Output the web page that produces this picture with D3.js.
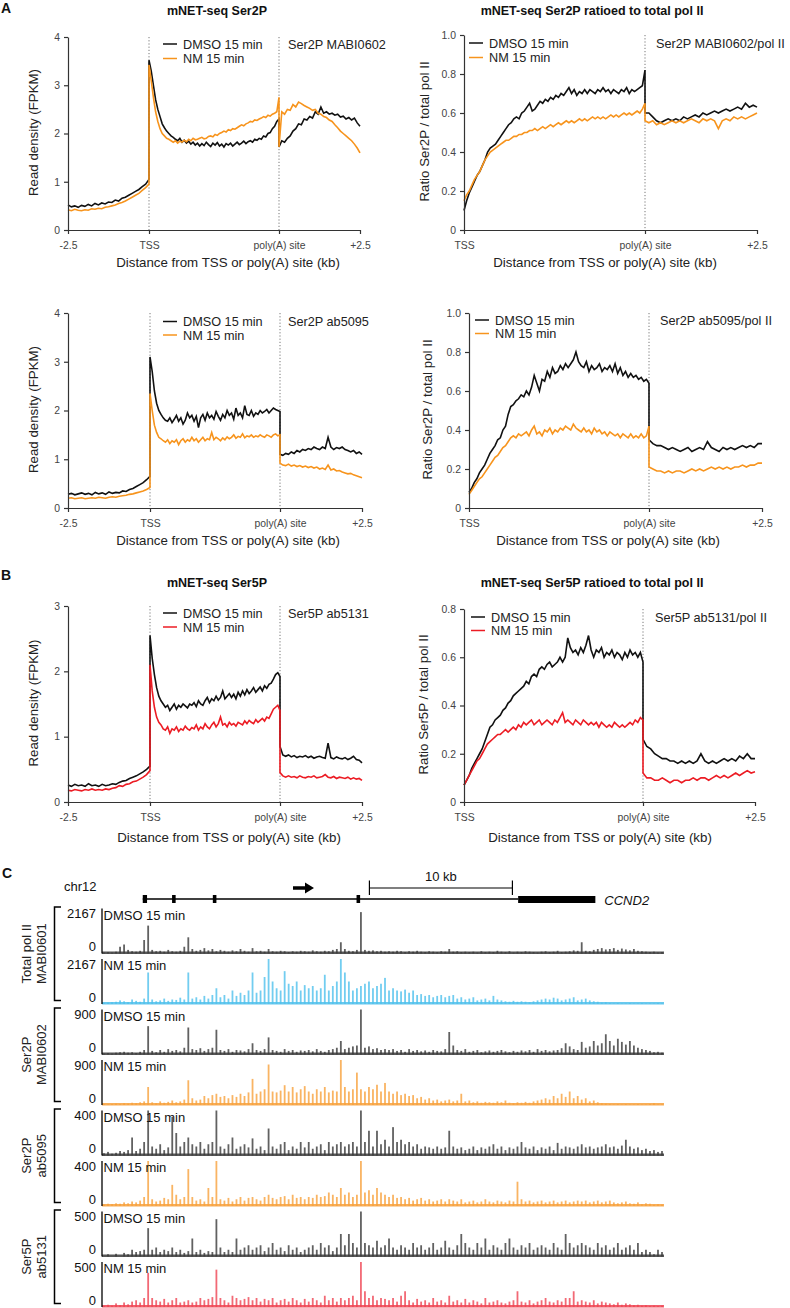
<!DOCTYPE html>
<html><head><meta charset="utf-8">
<script src="https://cdn.jsdelivr.net/npm/d3@7"></script>
<style>
body{margin:0;background:#fff;}
svg{display:block;}
</style></head><body>
<script>
// ---------------- DATA ----------------
// Metagene profiles. Left plots: 25 upstream pts (-2.5 kb..TSS), 60 gene-body pts (TSS..poly(A)), 30 downstream pts (poly(A)..+2.5 kb)
const UP_N = 25, BODY_N = 60, DOWN_N = 30;
// Ratio plots: 70 gene-body pts, 30 downstream pts
const RBODY_N = 70, RDOWN_N = 30;

const leftTickLabels = ["-2.5", "TSS", "poly(A) site", "+2.5"];
const rightTickLabels = ["TSS", "poly(A) site", "+2.5"];
const legendLabels = ["DMSO 15 min", "NM 15 min"];

// Ser2P MABI0602 read density
const s2mabiDmso = [0.52,0.48,0.50,0.47,0.51,0.49,0.53,0.50,0.55,0.52,0.56,0.54,0.58,0.57,0.62,0.60,0.66,0.68,0.72,0.76,0.80,0.84,0.90,0.95,1.05,
 3.52,3.3,3.0,2.7,2.5,2.35,2.2,2.12,2.05,2.0, 1.95,1.92,1.88,1.85,1.9,1.82,1.86,1.8,1.84,1.78, 1.82,1.76,1.8,1.74,1.79,1.75,1.82,1.77,1.73,1.8,
 1.76,1.81,1.74,1.78,1.72,1.79,1.76,1.8,1.74,1.78, 1.82,1.77,1.8,1.84,1.79,1.83,1.85,1.82,1.88,1.86, 1.9,1.88,1.95,1.93,2.0,2.02,2.1,2.15,2.25,2.3,
 1.72,1.85,1.82,1.9,1.95,2.05,2.1,2.2,2.18,2.3, 2.28,2.35,2.32,2.45,2.4,2.55,2.42,2.45,2.4,2.42, 2.38,2.4,2.34,2.36,2.3,2.33,2.28,2.32,2.22,2.15];
const s2mabiNm = [0.42,0.40,0.43,0.41,0.40,0.42,0.41,0.44,0.43,0.45,0.44,0.47,0.48,0.50,0.52,0.55,0.57,0.60,0.64,0.68,0.72,0.76,0.82,0.88,0.95,
 3.42,3.1,2.75,2.45,2.25,2.1,2.0,1.95,1.9,1.88, 1.85,1.82,1.85,1.8,1.84,1.82,1.86,1.83,1.88,1.85, 1.9,1.87,1.88,1.9,1.92,1.89,1.9,1.94,1.95,1.93,
 1.98,1.96,2.0,2.02,2.05,2.03,2.08,2.06,2.1,2.09, 2.12,2.15,2.18,2.16,2.2,2.22,2.25,2.24,2.28,2.27, 2.3,2.32,2.35,2.33,2.38,2.36,2.4,2.42,2.45,2.75,
 1.72,2.45,2.4,2.5,2.48,2.6,2.55,2.65,2.62,2.58, 2.55,2.52,2.48,2.5,2.42,2.4,2.35,2.33,2.28,2.25, 2.18,2.12,2.05,2.0,1.95,1.9,1.85,1.78,1.7,1.6];

// Ser2P MABI0602 / pol II ratio
const r2mabiDmso = [0.1,0.15,0.19,0.22,0.25,0.28,0.3,0.33,0.36,0.4, 0.42,0.43,0.44,0.46,0.48,0.5,0.52,0.54,0.55,0.57,
 0.58,0.57,0.6,0.61,0.63,0.65,0.61,0.62,0.64,0.66, 0.65,0.67,0.66,0.68,0.67,0.69,0.68,0.7,0.69,0.71,
 0.73,0.7,0.72,0.69,0.71,0.7,0.72,0.7,0.72,0.71, 0.7,0.72,0.71,0.73,0.71,0.72,0.7,0.72,0.71,0.7,
 0.72,0.71,0.73,0.7,0.72,0.71,0.72,0.73,0.74,0.82,
 0.6,0.6,0.58,0.56,0.55,0.56,0.57,0.56,0.57,0.56, 0.58,0.57,0.58,0.59,0.58,0.6,0.59,0.6,0.61,0.6, 0.61,0.62,0.61,0.62,0.63,0.62,0.65,0.63,0.64,0.63];
const r2mabiNm = [0.15,0.18,0.2,0.23,0.26,0.28,0.3,0.33,0.36,0.38, 0.4,0.41,0.42,0.43,0.44,0.45,0.46,0.46,0.47,0.48,
 0.48,0.49,0.49,0.5,0.5,0.51,0.51,0.52,0.51,0.52, 0.53,0.52,0.53,0.54,0.53,0.54,0.55,0.54,0.55,0.56,
 0.55,0.56,0.55,0.56,0.57,0.56,0.57,0.56,0.57,0.58, 0.57,0.58,0.57,0.58,0.57,0.58,0.59,0.58,0.59,0.58,
 0.59,0.6,0.59,0.6,0.59,0.6,0.61,0.6,0.62,0.65,
 0.56,0.55,0.56,0.54,0.55,0.54,0.55,0.56,0.55,0.56, 0.55,0.56,0.57,0.56,0.55,0.57,0.56,0.57,0.56,0.52, 0.56,0.57,0.56,0.58,0.57,0.58,0.57,0.58,0.59,0.6];

// Ser2P ab5095 read density
const s2abDmso = [0.28,0.30,0.27,0.29,0.31,0.28,0.30,0.27,0.32,0.29,0.31,0.28,0.33,0.30,0.32,0.31,0.35,0.34,0.38,0.40,0.44,0.48,0.52,0.58,0.65,
 3.1,2.8,2.4,2.15,2.0,1.92,1.85,1.8,1.78,1.85, 1.75,1.82,1.9,1.78,1.85,1.72,1.8,1.95,1.85,1.9, 1.78,1.88,1.65,1.85,1.92,1.8,1.95,1.85,1.9,1.82,
 1.98,1.88,1.8,1.92,1.85,2.0,1.9,1.95,1.82,2.05, 1.9,1.95,1.85,2.1,1.92,1.9,2.0,1.88,1.95,1.92, 2.0,1.95,1.98,2.02,1.95,2.0,2.05,2.02,2.0,1.98,
 1.1,1.08,1.12,1.1,1.15,1.12,1.18,1.15,1.2,1.18, 1.22,1.2,1.25,1.22,1.2,1.25,1.22,1.45,1.25,1.2, 1.24,1.22,1.25,1.2,1.18,1.15,1.18,1.12,1.15,1.1];
const s2abNm = [0.20,0.21,0.19,0.20,0.21,0.19,0.20,0.21,0.20,0.22,0.21,0.20,0.22,0.23,0.22,0.24,0.25,0.26,0.28,0.29,0.31,0.33,0.35,0.38,0.42,
 2.35,2.0,1.7,1.55,1.45,1.42,1.38,1.35,1.4,1.32, 1.38,1.35,1.4,1.3,1.38,1.42,1.35,1.4,1.37,1.45, 1.38,1.42,1.35,1.4,1.45,1.38,1.42,1.4,1.55,1.4,
 1.45,1.42,1.38,1.44,1.4,1.46,1.42,1.45,1.5,1.43, 1.47,1.45,1.52,1.44,1.48,1.46,1.5,1.45,1.48,1.46, 1.5,1.47,1.45,1.5,1.48,1.45,1.5,1.52,1.48,1.5,
 0.92,0.88,0.87,0.9,0.86,0.88,0.85,0.87,0.84,0.86, 0.83,0.85,0.82,0.84,0.8,0.82,0.79,0.88,0.78,0.8, 0.76,0.77,0.74,0.72,0.7,0.71,0.68,0.66,0.64,0.62];

// Ser2P ab5095 / pol II ratio
const r2abDmso = [0.08,0.1,0.13,0.15,0.18,0.2,0.22,0.25,0.28,0.3, 0.32,0.35,0.36,0.4,0.42,0.48,0.52,0.53,0.55,0.56,
 0.58,0.57,0.6,0.58,0.62,0.68,0.64,0.6,0.66,0.65, 0.7,0.67,0.72,0.69,0.7,0.73,0.71,0.74,0.72,0.74,
 0.76,0.8,0.75,0.73,0.72,0.75,0.7,0.73,0.71,0.72, 0.74,0.7,0.72,0.71,0.73,0.7,0.74,0.69,0.72,0.68,
 0.7,0.67,0.69,0.67,0.68,0.66,0.67,0.65,0.66,0.64,
 0.35,0.33,0.32,0.32,0.31,0.3,0.31,0.3,0.29,0.3, 0.31,0.29,0.3,0.31,0.3,0.34,0.31,0.3,0.29,0.31, 0.3,0.31,0.3,0.31,0.32,0.31,0.32,0.31,0.33,0.33];
const r2abNm = [0.07,0.09,0.11,0.13,0.15,0.16,0.18,0.2,0.22,0.24, 0.26,0.27,0.29,0.31,0.32,0.34,0.36,0.37,0.36,0.38,
 0.37,0.38,0.39,0.37,0.4,0.42,0.38,0.39,0.37,0.4, 0.39,0.41,0.38,0.4,0.39,0.41,0.4,0.42,0.41,0.4,
 0.43,0.41,0.4,0.39,0.41,0.39,0.4,0.38,0.41,0.39, 0.4,0.38,0.39,0.37,0.39,0.38,0.37,0.38,0.36,0.38,
 0.37,0.36,0.38,0.36,0.37,0.36,0.38,0.36,0.37,0.42,
 0.21,0.2,0.19,0.19,0.18,0.19,0.18,0.19,0.19,0.18, 0.19,0.2,0.19,0.2,0.19,0.2,0.21,0.2,0.21,0.2, 0.21,0.2,0.21,0.21,0.22,0.21,0.22,0.22,0.23,0.23];

// Ser5P ab5131 read density
const s5Dmso = [0.26,0.24,0.27,0.25,0.26,0.24,0.28,0.25,0.26,0.24,0.27,0.25,0.26,0.28,0.27,0.30,0.32,0.33,0.36,0.38,0.40,0.43,0.46,0.50,0.55,
 2.55,2.2,1.95,1.75,1.62,1.55,1.5,1.45,1.48,1.4, 1.45,1.5,1.42,1.48,1.45,1.5,1.47,1.44,1.5,1.48, 1.52,1.46,1.55,1.5,1.48,1.55,1.6,1.52,1.58,1.55,
 1.62,1.56,1.6,1.7,1.58,1.62,1.66,1.6,1.65,1.58, 1.68,1.62,1.7,1.64,1.72,1.66,1.7,1.75,1.68,1.72, 1.76,1.7,1.78,1.74,1.8,1.82,1.88,1.95,1.98,1.92,
 0.85,0.72,0.7,0.72,0.69,0.71,0.68,0.7,0.69,0.71, 0.68,0.7,0.67,0.69,0.7,0.68,0.67,0.9,0.68,0.66, 0.69,0.67,0.66,0.68,0.65,0.67,0.7,0.65,0.64,0.6];
const s5Nm = [0.18,0.17,0.19,0.18,0.17,0.19,0.18,0.2,0.18,0.19,0.18,0.2,0.19,0.21,0.22,0.25,0.24,0.27,0.28,0.31,0.32,0.35,0.38,0.42,0.48,
 2.1,1.7,1.45,1.3,1.22,1.18,1.12,1.1,1.15,1.05, 1.12,1.1,1.15,1.08,1.12,1.1,1.16,1.12,1.1,1.14, 1.12,1.18,1.1,1.15,1.12,1.2,1.15,1.12,1.18,1.22,
 1.15,1.2,1.3,1.18,1.2,1.15,1.22,1.18,1.2,1.16, 1.22,1.2,1.18,1.24,1.2,1.25,1.22,1.2,1.26,1.22, 1.25,1.28,1.24,1.3,1.28,1.35,1.42,1.45,1.48,1.4,
 0.45,0.4,0.38,0.4,0.38,0.39,0.37,0.4,0.38,0.37, 0.39,0.38,0.4,0.37,0.38,0.39,0.42,0.38,0.37,0.39, 0.36,0.38,0.37,0.36,0.38,0.35,0.37,0.35,0.36,0.33];

// Ser5P ab5131 / pol II ratio
const r5Dmso = [0.07,0.09,0.11,0.14,0.16,0.18,0.2,0.22,0.25,0.28, 0.31,0.32,0.34,0.35,0.36,0.38,0.39,0.41,0.42,0.44,
 0.45,0.46,0.47,0.48,0.5,0.49,0.52,0.53,0.52,0.55, 0.56,0.55,0.57,0.58,0.56,0.57,0.58,0.6,0.58,0.6,
 0.68,0.64,0.62,0.63,0.61,0.64,0.62,0.65,0.69,0.63, 0.6,0.63,0.62,0.64,0.6,0.62,0.61,0.63,0.6,0.62,
 0.61,0.59,0.62,0.6,0.63,0.61,0.62,0.6,0.62,0.58,
 0.26,0.23,0.22,0.2,0.19,0.18,0.18,0.17,0.17,0.16, 0.17,0.16,0.17,0.16,0.17,0.2,0.17,0.16,0.17,0.16, 0.17,0.18,0.17,0.18,0.17,0.19,0.18,0.2,0.18,0.18];
const r5Nm = [0.07,0.09,0.11,0.13,0.15,0.17,0.18,0.2,0.22,0.24, 0.25,0.26,0.27,0.28,0.28,0.29,0.3,0.29,0.3,0.31,
 0.3,0.32,0.31,0.33,0.32,0.33,0.34,0.32,0.33,0.34, 0.32,0.33,0.34,0.33,0.32,0.34,0.33,0.35,0.37,0.33,
 0.34,0.33,0.32,0.34,0.33,0.32,0.34,0.33,0.32,0.33, 0.32,0.33,0.31,0.33,0.32,0.31,0.32,0.31,0.33,0.32,
 0.31,0.32,0.31,0.32,0.33,0.32,0.34,0.33,0.35,0.34,
 0.12,0.1,0.1,0.09,0.09,0.1,0.09,0.08,0.09,0.09, 0.08,0.09,0.09,0.1,0.09,0.1,0.1,0.09,0.1,0.11, 0.1,0.11,0.1,0.11,0.12,0.11,0.12,0.13,0.12,0.125];

// Panel C: genome-browser tracks, 140 bins along the CCND2 locus, value = % of track scale max
const trackMaxLabels = ["2167","2167","900","900","400","400","500","500"];
const trackConditions = ["DMSO 15 min","NM 15 min","DMSO 15 min","NM 15 min","DMSO 15 min","NM 15 min","DMSO 15 min","NM 15 min"];
const trackGroups = [["Total pol II","MABI0601"],["Ser2P","MABI0602"],["Ser2P","ab5095"],["Ser5P","ab5131"]];
const trkPolIIDmso = [2,3,2,4,15,20,8,5,4,6,30,62,8,5,6,4,8,5,4,6,15,36,10,6,8,12,7,10,5,8,6,4,7,5,10,6,4,12,5,6,4,10,5,4,6,5,3,5,4,6,5,4,7,5,4,6,5,8,10,25,10,6,5,8,92,8,6,7,5,6,4,5,4,6,5,3,5,4,6,4,3,5,4,3,5,4,10,4,5,3,4,3,4,2,5,3,4,3,6,4,3,5,2,4,3,5,4,3,2,4,5,3,4,6,3,4,5,7,6,25,6,5,8,10,12,9,10,12,8,11,9,7,10,6,5,4,3,4,2,3];
const trkPolIINm = [2,3,4,5,8,6,4,10,7,5,12,70,10,6,8,12,7,10,9,14,10,70,12,15,10,18,12,20,35,15,20,12,30,18,25,20,30,70,25,30,60,100,50,35,30,73,45,40,50,30,42,35,40,30,35,65,30,40,50,100,70,50,30,35,40,45,50,35,40,45,58,30,35,30,28,32,25,30,20,22,18,20,15,18,20,15,18,20,12,15,10,12,15,8,10,12,8,18,10,8,6,5,7,5,6,5,4,6,8,10,12,10,14,12,8,10,12,15,8,10,12,8,6,5,3,4,2,1,2,1,1,2,1,1,2,1,1,1,2,1];
const trkS2mabiDmso = [2,3,2,4,5,6,4,5,3,6,10,63,8,5,10,6,12,8,10,7,15,60,12,10,14,8,12,15,55,10,8,12,6,10,9,7,12,25,10,8,12,38,10,8,6,12,8,10,6,9,8,10,7,12,8,6,10,12,15,30,12,15,18,20,100,15,18,12,14,10,12,10,12,8,10,6,12,8,10,7,9,6,10,8,7,12,50,20,10,8,12,6,8,10,5,7,9,6,8,10,7,5,8,6,9,7,10,6,12,8,10,7,9,10,14,25,18,12,10,28,15,18,30,20,25,45,30,20,35,28,22,30,20,15,12,10,8,5,6,4];
const trkS2mabiNm = [2,1,2,3,2,4,3,5,4,6,8,40,6,4,8,5,7,10,6,8,12,55,15,10,12,20,15,22,25,18,20,15,22,18,25,20,28,58,25,30,35,90,30,28,32,44,30,40,28,35,42,30,25,35,30,40,28,32,30,100,40,30,35,72,35,30,40,35,45,30,49,30,25,30,22,25,20,22,15,18,12,15,10,12,8,10,12,8,10,25,8,10,6,8,5,7,6,5,8,6,10,5,4,6,5,7,5,8,10,12,15,12,20,15,25,18,30,15,20,12,15,8,10,6,4,3,2,1,2,1,2,1,1,2,1,1,2,4,1,1];
const trkS2abDmso = [5,8,4,6,10,8,12,40,10,15,30,100,20,15,25,12,18,86,50,20,30,40,25,20,30,15,25,30,100,20,15,25,40,15,20,25,18,38,15,20,12,60,20,15,25,30,12,20,15,30,18,30,15,20,25,12,30,20,25,30,20,25,30,20,100,30,55,20,55,25,35,20,63,30,35,25,30,20,25,15,20,18,15,20,15,18,55,20,15,18,12,15,20,12,18,15,20,25,15,20,12,18,15,20,30,18,15,20,12,18,15,20,12,28,15,20,18,15,20,25,18,20,15,18,20,25,18,20,15,22,35,20,15,18,12,15,10,12,8,10];
const trkS2abNm = [3,5,4,6,5,8,6,10,8,12,20,100,15,10,12,18,15,47,25,15,20,82,20,12,15,10,40,20,100,15,12,18,10,15,20,12,18,20,15,12,20,25,18,15,20,22,15,25,18,20,15,20,18,25,20,22,30,25,20,40,25,30,20,25,100,30,35,25,40,30,25,20,25,18,20,15,18,12,15,18,12,15,10,12,15,10,15,12,10,15,8,10,12,8,10,15,10,8,12,10,8,12,10,54,15,10,12,8,10,12,8,10,12,8,10,12,8,10,12,10,12,8,10,12,8,10,12,8,6,8,10,6,5,8,4,6,5,3,4,3];
const trkS5Dmso = [0,5,0,6,0,8,5,15,10,12,15,63,15,20,10,15,12,20,10,15,8,12,40,10,15,8,12,10,83,20,10,15,10,40,15,20,25,15,20,25,12,20,30,15,20,12,25,15,20,10,15,20,25,15,30,20,25,12,20,50,25,50,30,20,100,30,25,20,35,20,25,40,20,15,25,20,15,30,20,25,15,20,30,15,20,35,20,15,25,50,30,20,15,30,20,40,15,25,20,15,30,40,20,15,25,20,30,15,20,25,20,15,30,20,15,50,30,20,25,30,25,20,15,30,20,25,15,20,30,15,20,25,15,30,10,15,10,5,15,10];
const trkS5Nm = [2,5,3,8,4,10,6,12,15,10,20,76,20,15,12,18,10,15,20,10,12,15,10,12,20,15,18,22,83,20,15,10,25,20,15,18,22,15,20,12,18,15,20,10,15,18,12,20,15,10,18,12,20,15,10,25,15,20,12,20,15,20,25,15,100,35,20,25,15,20,18,15,20,12,25,35,15,10,18,12,15,10,20,12,15,10,25,12,15,10,18,10,15,12,8,20,10,12,15,10,8,12,15,35,12,10,15,8,12,15,20,12,10,15,12,20,20,35,12,15,12,10,15,8,12,10,8,6,10,5,8,6,4,5,3,4,2,3,2,3];

// Gene model (kb along locus)
const exonsKb = [[2.85,3.15],[4.9,5.15],[7.75,8.0],[17.8,18.05]];
const geneSpanKb = [2.85, 29.1];
const utrKb = [29.1, 34.5];
const scaleBarKb = [18.7, 28.7];

// ---------------- DRAWING ----------------
const FONT = "'Liberation Sans', Arial, Helvetica, sans-serif";
const BLACK = "#111", ORANGE = "#F7941D", RED = "#EC1C24";
const W = 790, H = 1308;
const svg = d3.select("body").append("svg").attr("width", W).attr("height", H)
  .attr("font-family", FONT);

function posLeft(i){ if(i<UP_N) return i/(UP_N-1); i-=UP_N; if(i<BODY_N) return 1+i/(BODY_N-1); i-=BODY_N; return 2+i/(DOWN_N-1); }
function posRight(i){ if(i<RBODY_N) return 1+i/(RBODY_N-1); i-=RBODY_N; return 2+i/(RDOWN_N-1); }

function profile(c){
  const g = svg.append("g");
  const dom = c.left ? [0,1,2,3] : [1,2,3];
  const x = d3.scaleLinear().domain(dom).range(c.xr);
  const y = d3.scaleLinear().domain([0, c.yMax]).range([c.yBot, c.yTop]);
  const marks = c.left ? [1,2] : [2];
  g.selectAll(".vdot").data(marks).join("line")
    .attr("x1", d=>x(d)).attr("x2", d=>x(d)).attr("y1", c.yTop).attr("y2", c.yBot)
    .attr("stroke", "#777").attr("stroke-width", 1).attr("stroke-dasharray", "1.2,2");
  const pos = c.left ? posLeft : posRight;
  const line = d3.line().x((d,i)=>x(pos(i))).y(d=>y(d));
  c.series.forEach(s=>{
    g.append("path").datum(s.data).attr("d", line).attr("fill","none")
      .attr("stroke", s.color).attr("stroke-width", 1.6).attr("stroke-linejoin","miter");
  });
  const ya = g.append("g").attr("transform", `translate(${c.xr[0]},0)`)
    .call(d3.axisLeft(y).tickValues(c.yTicks).tickSize(4).tickSizeOuter(0).tickPadding(4)
      .tickFormat(d => d===0 ? "0" : (c.yMax<=1 ? d.toFixed(1) : String(d))));
  const xa = g.append("g").attr("transform", `translate(0,${c.yBot})`)
    .call(d3.axisBottom(x).tickValues(dom).tickSize(4).tickSizeOuter(0).tickPadding(8)
      .tickFormat((d,i)=> c.xLabels[i]));
  [ya, xa].forEach(a=>{
    a.attr("font-family", FONT).attr("font-size", 10.4);
    a.select(".domain").attr("stroke","#333").attr("stroke-width",1.2);
    a.selectAll(".tick line").attr("stroke","#333").attr("stroke-width",1.2);
    a.selectAll(".tick text").attr("fill","#444");
  });
  // legend
  const lg = g.append("g");
  legendLabels.forEach((t,i)=>{
    const yy = c.legY + i*c.legDy;
    lg.append("line").attr("x1", c.legX).attr("x2", c.legX+14).attr("y1", yy).attr("y2", yy)
      .attr("stroke", c.series[i].color).attr("stroke-width", 1.5);
    lg.append("text").attr("x", c.legX+20).attr("y", yy).attr("dy","0.36em")
      .attr("font-size", 12.7).attr("fill", "#222").text(t);
  });
  g.append("text").attr("x", c.noteX).attr("y", c.legY).attr("dy","0.36em")
    .attr("font-size", 12.7).attr("fill","#222").text(c.note);
  if (c.title) g.append("text").attr("x", c.titleX).attr("y", c.titleY).attr("text-anchor","middle")
    .attr("font-size", 12.5).attr("font-weight","bold").attr("fill","#111").text(c.title);
  g.append("text").attr("transform", `translate(${c.ylabX},${(c.yTop+c.yBot)/2 - 1}) rotate(-90)`)
    .attr("text-anchor","middle").attr("dy","0.36em").attr("font-size", 13.3).attr("fill","#222").text(c.ylab);
  g.append("text").attr("x", c.xlabX).attr("y", c.xlabY).attr("text-anchor","middle")
    .attr("font-size", 13.3).attr("fill","#222").text("Distance from TSS or poly(A) site (kb)");
}

// Panel letters
[["A",1,13],["B",1,580],["C",2,878]].forEach(([t,x,y])=>{
  svg.append("text").attr("x",x).attr("y",y).attr("font-size",14).attr("font-weight","bold").attr("fill","#111").text(t);
});

profile({left:true, xr:[68,149,279,360], yTop:37, yBot:230, yMax:4, yTicks:[0,1,2,3,4], xLabels:leftTickLabels,
  series:[{data:s2mabiDmso,color:BLACK},{data:s2mabiNm,color:ORANGE}],
  legX:163, legY:44, legDy:14.5, note:"Ser2P MABI0602", noteX:288,
  title:"mNET-seq Ser2P", titleX:217, titleY:15, ylab:"Read density (FPKM)", ylabX:33, xlabX:228, xlabY:267});
profile({left:false, xr:[464,645,757], yTop:35, yBot:230, yMax:1.0, yTicks:[0,0.2,0.4,0.6,0.8,1.0], xLabels:rightTickLabels,
  series:[{data:r2mabiDmso,color:BLACK},{data:r2mabiNm,color:ORANGE}],
  legX:469, legY:43, legDy:14.5, note:"Ser2P MABI0602/pol II", noteX:656,
  title:"mNET-seq Ser2P ratioed to total pol II", titleX:592, titleY:15, ylab:"Ratio Ser2P / total pol II", ylabX:424, xlabX:605, xlabY:267});
profile({left:true, xr:[68,150,280,362], yTop:313, yBot:508, yMax:4, yTicks:[0,1,2,3,4], xLabels:leftTickLabels,
  series:[{data:s2abDmso,color:BLACK},{data:s2abNm,color:ORANGE}],
  legX:163, legY:321.5, legDy:13.5, note:"Ser2P ab5095", noteX:288,
  ylab:"Read density (FPKM)", ylabX:33, xlabX:228, xlabY:545});
profile({left:false, xr:[469,649,762], yTop:313, yBot:508, yMax:1.0, yTicks:[0,0.2,0.4,0.6,0.8,1.0], xLabels:rightTickLabels,
  series:[{data:r2abDmso,color:BLACK},{data:r2abNm,color:ORANGE}],
  legX:475, legY:320, legDy:13.5, note:"Ser2P ab5095/pol II", noteX:660,
  ylab:"Ratio Ser2P / total pol II", ylabX:427, xlabX:608, xlabY:545});
profile({left:true, xr:[68,150,280,362], yTop:606, yBot:802, yMax:3, yTicks:[0,1,2,3], xLabels:leftTickLabels,
  series:[{data:s5Dmso,color:BLACK},{data:s5Nm,color:RED}],
  legX:163, legY:613, legDy:14, note:"Ser5P ab5131", noteX:288,
  title:"mNET-seq Ser5P", titleX:217, titleY:587, ylab:"Read density (FPKM)", ylabX:33, xlabX:229, xlabY:842});
profile({left:false, xr:[464,643,755], yTop:609, yBot:802, yMax:0.8, yTicks:[0,0.2,0.4,0.6,0.8], xLabels:rightTickLabels,
  series:[{data:r5Dmso,color:BLACK},{data:r5Nm,color:RED}],
  legX:471, legY:617, legDy:13.5, note:"Ser5P ab5131/pol II", noteX:655,
  title:"mNET-seq Ser5P ratioed to total pol II", titleX:592, titleY:587, ylab:"Ratio Ser5P / total pol II", ylabX:423, xlabX:600, xlabY:842});

// ---------------- Panel C ----------------
const gx = d3.scaleLinear().domain([0, 39.3]).range([102, 664]);
const gc = svg.append("g");
gc.append("text").attr("x",64).attr("y",891).attr("font-size",13).attr("fill","#111").text("chr12");
// gene model
gc.append("line").attr("x1",gx(geneSpanKb[0])).attr("x2",gx(geneSpanKb[1])).attr("y1",899).attr("y2",899)
  .attr("stroke","#000").attr("stroke-width",1.6);
gc.selectAll(".exon").data(exonsKb).join("rect")
  .attr("x",d=>gx(d[0])).attr("width",d=>Math.max(3, gx(d[1])-gx(d[0]))).attr("y",895).attr("height",8).attr("fill","#000");
gc.append("rect").attr("x",gx(utrKb[0])).attr("width",gx(utrKb[1])-gx(utrKb[0])).attr("y",896).attr("height",7).attr("fill","#000");
gc.append("text").attr("x",gx(utrKb[1])+9).attr("y",904.5).attr("font-size",13).attr("font-style","italic").attr("fill","#111").text("CCND2");
// direction arrow
gc.append("path").attr("d","M293,886.3 L305,886.3 L305,882.5 L314,888 L305,893.5 L305,889.7 L293,889.7 Z").attr("fill","#000");
// scale bar
const sb = scaleBarKb.map(gx);
gc.append("line").attr("x1",sb[0]).attr("x2",sb[1]).attr("y1",888).attr("y2",888).attr("stroke","#000").attr("stroke-width",1.2);
sb.forEach(v=> gc.append("line").attr("x1",v).attr("x2",v).attr("y1",880.5).attr("y2",895).attr("stroke","#000").attr("stroke-width",1.2));
gc.append("text").attr("x",(sb[0]+sb[1])/2).attr("y",881).attr("text-anchor","middle").attr("font-size",13).attr("fill","#111").text("10 kb");

// tracks
const trackData = [trkPolIIDmso, trkPolIINm, trkS2mabiDmso, trkS2mabiNm, trkS2abDmso, trkS2abNm, trkS5Dmso, trkS5Nm];
const trackColors = ["#3a3a3a","#4FC0EC","#3a3a3a","#F7A13C","#3a3a3a","#F7A13C","#3a3a3a","#EF4452"];
const binX = d3.scaleLinear().domain([0, 139]).range([104, 662]);
const TRACK_H = 45;
trackData.forEach((vals, i)=>{
  const base = 953.5 + 50.5*i;
  const y = d3.scaleLinear().domain([0,100]).range([base, base-TRACK_H]);
  const g = gc.append("g");
  g.append("line").attr("x1",102).attr("x2",664).attr("y1",base-0.8).attr("y2",base-0.8)
    .attr("stroke",trackColors[i]).attr("stroke-width",2.4).attr("opacity",0.85);
  g.selectAll("rect").data(vals).join("rect")
    .attr("x",(d,j)=>binX(j)-0.9).attr("width",1.8)
    .attr("y",d=>y(d)).attr("height",d=>base-y(d))
    .attr("fill",trackColors[i]).attr("opacity",0.8);
  g.append("line").attr("x1",102).attr("x2",102).attr("y1",y(100)).attr("y2",base)
    .attr("stroke","#000").attr("stroke-width",1.3);
  g.append("text").attr("x",96).attr("y",y(100)+9.5).attr("text-anchor","end").attr("font-size",13).attr("fill","#111").text(trackMaxLabels[i]);
  g.append("text").attr("x",96).attr("y",base-2.5).attr("text-anchor","end").attr("font-size",13).attr("fill","#111").text("0");
  g.append("text").attr("x",103.5).attr("y",y(100)+11).attr("font-size",13).attr("fill","#111").text(trackConditions[i]);
});
// group brackets
trackGroups.forEach((lab, k)=>{
  const top = 953.5 + 50.5*(2*k) - TRACK_H - 1.5;
  const bot = 953.5 + 50.5*(2*k+1) - 3.5;
  gc.append("path").attr("d",`M61,${top} L54.5,${top} L54.5,${bot} L61,${bot}`)
    .attr("fill","none").attr("stroke","#000").attr("stroke-width",1.5);
  const cy = (top+bot)/2;
  lab.forEach((t, m)=>{
    gc.append("text").attr("transform",`translate(${26+m*15.5},${cy}) rotate(-90)`)
      .attr("text-anchor","middle").attr("dy","0.36em").attr("font-size",13).attr("fill","#222").text(t);
  });
});
</script>
</body></html>
